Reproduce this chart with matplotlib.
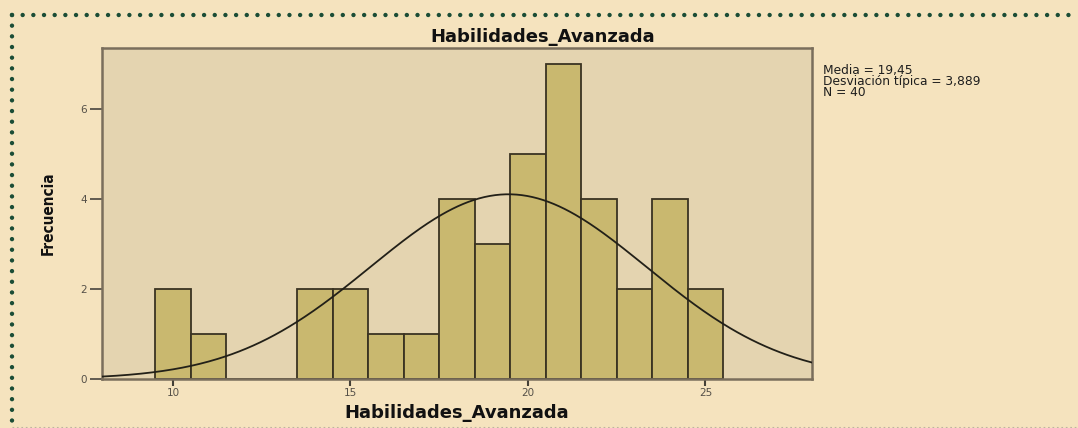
import numpy as np
import matplotlib
matplotlib.use("Agg")
import matplotlib.pyplot as plt
from matplotlib.lines import Line2D

# ---- data ----
bin_centers = [10, 11, 12, 13, 14, 15, 16, 17, 18, 19, 20, 21, 22, 23, 24, 25]
frequencies = [2, 1, 0, 0, 2, 2, 1, 1, 4, 3, 5, 7, 4, 2, 4, 2]
x_ticks = [10, 15, 20, 25]
y_ticks = [0, 2, 4, 6]
mean_value = 19.45
std_value = 3.889
n_value = 40
title_text = "Habilidades_Avanzada"
xlabel_text = "Habilidades_Avanzada"
ylabel_text = "Frecuencia"
stats_lines = ["Media = 19,45", "Desviación típica = 3,889", "N = 40"]

# ---- colors ----
fig_bg = "#F5E3BE"
ax_bg = "#E4D4B0"
bar_color = "#C9B86F"
bar_edge = "#3A3322"
spine_col = "#7A6E5C"
dot_green = "#1B4D36"

fig = plt.figure(figsize=(10.78, 4.28), dpi=100, facecolor=fig_bg)
ax = fig.add_axes([0.0946, 0.1145, 0.7532 - 0.0946, 0.8886 - 0.1145])
ax.set_facecolor(ax_bg)

ax.bar(bin_centers, frequencies, width=1.0, color=bar_color,
       edgecolor=bar_edge, linewidth=1.3, zorder=2)

xs = np.linspace(8, 28, 400)
binw = 1.0
ys = n_value * binw / (std_value * np.sqrt(2 * np.pi)) * np.exp(-0.5 * ((xs - mean_value) / std_value) ** 2)
ax.plot(xs, ys, color="#222018", linewidth=1.3, zorder=3)

ax.set_xlim(8, 28)
ax.set_ylim(0, 7.36)
ax.set_xticks(x_ticks)
ax.set_yticks(y_ticks)
ax.tick_params(axis="x", length=5, width=1.5, color="#444036", labelsize=7.5,
               labelcolor="#555048", pad=1.5)
ax.tick_params(axis="y", length=9, width=1.3, color="#555048", labelsize=7.5,
               labelcolor="#555048", pad=2)
for s in ax.spines.values():
    s.set_color(spine_col)
    s.set_linewidth(1.8)

ax.set_xlabel(xlabel_text, fontsize=13, fontweight="bold", color="#111111",
              labelpad=4, family=["DejaVu Sans"])
fig.text(0.0445, 0.502, ylabel_text, rotation=90, ha="center", va="center",
         fontsize=11, fontweight="bold", color="#111111",
         family=["Liberation Sans Narrow", "DejaVu Sans"], fontstretch="condensed")
fig.text(0.5035, 1 - 37 / 428, title_text, ha="center", va="center",
         fontsize=13, fontweight="bold", color="#111111", family=["DejaVu Sans"])
fig.text(0.7635, 1 - 64 / 428, "\n".join(stats_lines), ha="left", va="top",
         fontsize=8.8, color="#1E1E1E", linespacing=0.82, family=["DejaVu Sans"])

# ---- dotted border ----
dot_kw = dict(color=dot_green, linewidth=3.2, dash_capstyle="round",
              linestyle=(0, (0.001, 2.4)), transform=fig.transFigure)
y_top = 1 - 14.5 / 428
x_left = 12.5 / 1078
fig.add_artist(Line2D([x_left, 1.0], [y_top, y_top], **dot_kw))
fig.add_artist(Line2D([x_left, x_left], [y_top, 1 - 424 / 428], **dot_kw))
fig.add_artist(Line2D([x_left, 1.0], [1 - 427 / 428, 1 - 427 / 428],
                      color="#BDB3A0", linewidth=0.8, linestyle=(0, (1.5, 2.5)),
                      transform=fig.transFigure))

fig.savefig("out.png", dpi=100, facecolor=fig_bg)
